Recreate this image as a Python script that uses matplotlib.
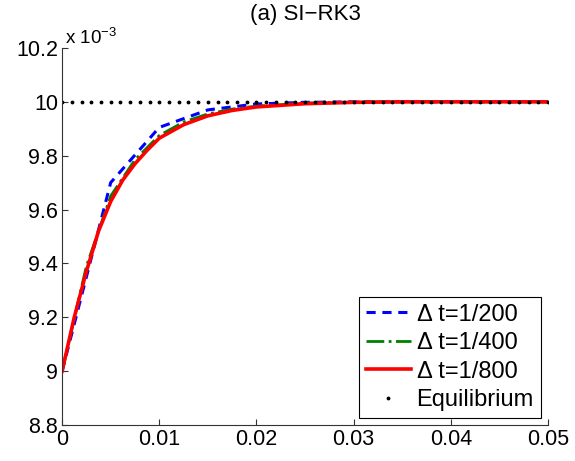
import numpy as np
import matplotlib
matplotlib.use('Agg')
import matplotlib.pyplot as plt

plt.rcParams.update({
    'font.family': ['Liberation Sans', 'DejaVu Sans'],
    'font.size': 15.5,
    'mathtext.fontset': 'custom',
    'mathtext.rm': 'Liberation Sans',
})

# values (units of 1e-3)
t_200 = [0, 0.005, 0.01, 0.015, 0.02, 0.025, 0.03, 0.035, 0.04, 0.045, 0.05]
u_200 = [9.0, 9.70, 9.905, 9.97, 9.992, 9.998, 10.0, 10.0, 10.0, 10.0, 10.0]

t_400 = [0, 0.0025, 0.005, 0.0075, 0.01, 0.0125, 0.015, 0.0175, 0.02,
         0.025, 0.03, 0.035, 0.04, 0.045, 0.05]
u_400 = [9.0, 9.39, 9.65, 9.785, 9.875, 9.925, 9.955, 9.973, 9.984,
         9.995, 9.999, 10.0, 10.0, 10.0, 10.0]

t_800 = [0, 0.00125, 0.0025, 0.00375, 0.005, 0.00625, 0.0075, 0.00875, 0.01,
         0.0125, 0.015, 0.0175, 0.02, 0.025, 0.03, 0.035, 0.04, 0.045, 0.05]
u_800 = [9.0, 9.20, 9.37, 9.52, 9.63, 9.71, 9.77, 9.82, 9.865,
         9.915, 9.948, 9.968, 9.981, 9.993, 9.998, 10.0, 10.0, 10.0, 10.0]

t_eq = np.arange(0, 51) / 1000.0
u_eq = [10.0] * len(t_eq)

labels = ['\u0394 t=1/200', '\u0394 t=1/400', '\u0394 t=1/800', 'Equilibrium']
xticks = [0, 0.01, 0.02, 0.03, 0.04, 0.05]
xticklabels = ['0', '0.01', '0.02', '0.03', '0.04', '0.05']
yticks = [8.8, 9.0, 9.2, 9.4, 9.6, 9.8, 10.0, 10.2]
yticklabels = ['8.8', '9', '9.2', '9.4', '9.6', '9.8', '10', '10.2']

fig = plt.figure(figsize=(5.75, 4.61), dpi=100)
ax = fig.add_axes([0.108, 0.078, 0.845, 0.818])

ax.plot(t_200, u_200, '--', color='#0000ff', lw=2.2, dashes=(3, 2.2), label=labels[0])
ax.plot(t_400, u_400, '-.', color='#008000', lw=2.0, label=labels[1])
ax.plot(t_800, u_800, '-', color='#ff0000', lw=2.6, label=labels[2])
ax.plot(t_eq, u_eq, '.', color='black', ms=3.5, label=labels[3])

ax.set_xlim(0, 0.05)
ax.set_ylim(8.8, 10.2)
ax.set_xticks(xticks)
ax.set_xticklabels(xticklabels)
ax.set_yticks(yticks)
ax.set_yticklabels(yticklabels)
ax.tick_params(direction='in', length=4, width=0.8, color='#333333', pad=3)
for s in ['top', 'right']:
    ax.spines[s].set_visible(False)
for s in ['left', 'bottom']:
    ax.spines[s].set_color('#333333')
    ax.spines[s].set_linewidth(0.8)

ax.set_title('(a) SI\u2212RK3', fontsize=16, pad=20)
ax.text(0.005, 1.0, 'x 10$^{\\mathregular{-3}}$', transform=ax.transAxes,
        fontsize=13.5, ha='left', va='bottom')

leg = ax.legend(loc='lower right', fontsize=17, frameon=True, fancybox=False,
                edgecolor='black', framealpha=1, numpoints=1,
                handlelength=1.9, handletextpad=0.25, labelspacing=0.27,
                borderpad=0.3, borderaxespad=0.3)
leg.get_frame().set_linewidth(0.8)

fig.savefig('out.png', dpi=100)
